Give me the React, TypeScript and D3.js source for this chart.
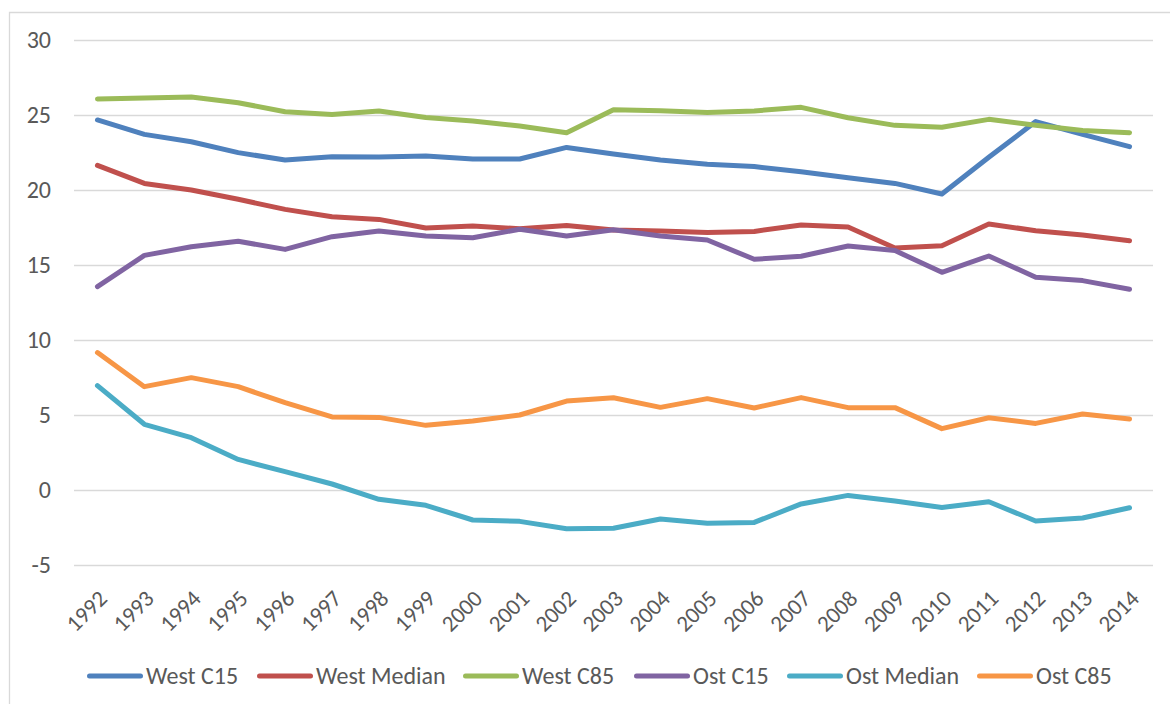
import { useEffect, useRef } from "react";
import * as d3 from "d3";

const years = [
  "1992", "1993", "1994", "1995", "1996", "1997", "1998", "1999", "2000", "2001", "2002", "2003",
  "2004", "2005", "2006", "2007", "2008", "2009", "2010", "2011", "2012", "2013", "2014",
];

const westC15 = [24.67, 23.71, 23.22, 22.49, 22.0, 22.22, 22.2, 22.27, 22.07, 22.07, 22.84, 22.4, 22.0, 21.71, 21.56, 21.22, 20.82, 20.44, 19.73, 22.18, 24.56, 23.71, 22.89];
const westMedian = [21.64, 20.44, 20.0, 19.38, 18.71, 18.22, 18.04, 17.47, 17.6, 17.42, 17.64, 17.33, 17.27, 17.16, 17.24, 17.67, 17.53, 16.13, 16.29, 17.73, 17.29, 17.0, 16.62];
const westC85 = [26.07, 26.13, 26.2, 25.82, 25.22, 25.04, 25.27, 24.84, 24.6, 24.27, 23.82, 25.35, 25.29, 25.16, 25.27, 25.51, 24.82, 24.31, 24.18, 24.71, 24.31, 23.96, 23.82];
const ostC15 = [13.56, 15.64, 16.22, 16.58, 16.04, 16.89, 17.27, 16.93, 16.82, 17.38, 16.93, 17.35, 16.93, 16.67, 15.38, 15.58, 16.27, 15.96, 14.51, 15.6, 14.18, 13.96, 13.38];
const ostMedian = [6.96, 4.38, 3.49, 2.04, 1.22, 0.4, -0.62, -1.02, -2.0, -2.09, -2.58, -2.55, -1.93, -2.22, -2.16, -0.93, -0.36, -0.73, -1.16, -0.78, -2.07, -1.87, -1.18];
const ostC85 = [9.16, 6.89, 7.49, 6.89, 5.82, 4.87, 4.84, 4.31, 4.6, 5.0, 5.93, 6.15, 5.51, 6.09, 5.47, 6.16, 5.49, 5.49, 4.09, 4.82, 4.44, 5.07, 4.73];

const seriesNames = ["West C15", "West Median", "West C85", "Ost C15", "Ost Median", "Ost C85"];
const seriesValues = [westC15, westMedian, westC85, ostC15, ostMedian, ostC85];
const colors = ["#4F81BD", "#C0504D", "#9BBB59", "#8064A2", "#4BACC6", "#F79646"];
const yTicks = [-5, 0, 5, 10, 15, 20, 25, 30];

export default function App() {
  const svgRef = useRef<SVGSVGElement>(null);

  useEffect(() => {
    if (!svgRef.current) return;
    const W = 1170;
    const H = 704;
    const font = "Carlito, 'Liberation Sans', Arial, sans-serif";
    const textColor = "#595959";
    const svg = d3.select(svgRef.current).attr("width", W).attr("height", H);
    svg.selectAll("*").remove();

    svg.append("rect").attr("x", 0).attr("y", 0).attr("width", W).attr("height", H).attr("fill", "#fff");
    // chart border (top and left edges visible)
    svg.append("path").attr("d", `M9.5,${H} V12.5 H${W}`)
      .attr("fill", "none").attr("stroke", "#d9d9d9").attr("stroke-width", 1.3);

    const x = d3.scaleBand().domain(years).range([74, 1153]);
    const y = d3.scaleLinear().domain([-5, 30]).range([565, 40]);
    const cx = (d: string) => (x(d) ?? 0) + x.bandwidth() / 2;

    // Grid lines
    svg.append("g")
      .attr("transform", "translate(74,0)")
      .call(d3.axisLeft(y).tickValues(yTicks).tickSize(-(1153 - 74)).tickFormat(() => ""))
      .call((g) => g.select(".domain").remove())
      .call((g) => g.selectAll(".tick line").attr("stroke", "#d9d9d9").attr("stroke-width", 1.4));

    // Y labels
    svg.append("g").selectAll("text").data(yTicks).enter().append("text")
      .attr("x", 51).attr("y", (d) => y(d)).attr("dy", "0.35em").attr("text-anchor", "end")
      .attr("fill", textColor).attr("font-size", "24px").attr("font-family", font)
      .text((d) => String(d));

    // X labels
    svg.append("g").selectAll("text").data(years).enter().append("text")
      .attr("transform", (d) => `translate(${cx(d) + 11},600) rotate(-45)`)
      .attr("text-anchor", "end")
      .attr("fill", textColor).attr("font-size", "23px").attr("font-family", font)
      .text((d) => d);

    const line = d3.line<number>()
      .x((_, i) => cx(years[i]))
      .y((d) => y(d));

    seriesValues.forEach((vals, i) => {
      svg.append("path").datum(vals)
        .attr("d", line)
        .attr("fill", "none").attr("stroke", colors[i]).attr("stroke-width", 5)
        .attr("stroke-linejoin", "round").attr("stroke-linecap", "round");
    });

    // Legend
    const legendStarts = [87, 257, 463, 634, 787, 977];
    const ly = 676;
    const lg = svg.append("g");
    seriesNames.forEach((name, i) => {
      const lx = legendStarts[i];
      lg.append("line").attr("x1", lx + 2.5).attr("x2", lx + 53.5)
        .attr("y1", ly).attr("y2", ly)
        .attr("stroke", colors[i]).attr("stroke-width", 5).attr("stroke-linecap", "round");
      lg.append("text").attr("x", lx + 59).attr("y", ly).attr("dy", "0.35em")
        .attr("fill", textColor).attr("font-size", "24px").attr("font-family", font)
        .text(name);
    });
  }, []);

  return (
    <div style={{ position: "absolute", left: 0, top: 0 }}>
      <svg ref={svgRef} style={{ display: "block" }} />
    </div>
  );
}
